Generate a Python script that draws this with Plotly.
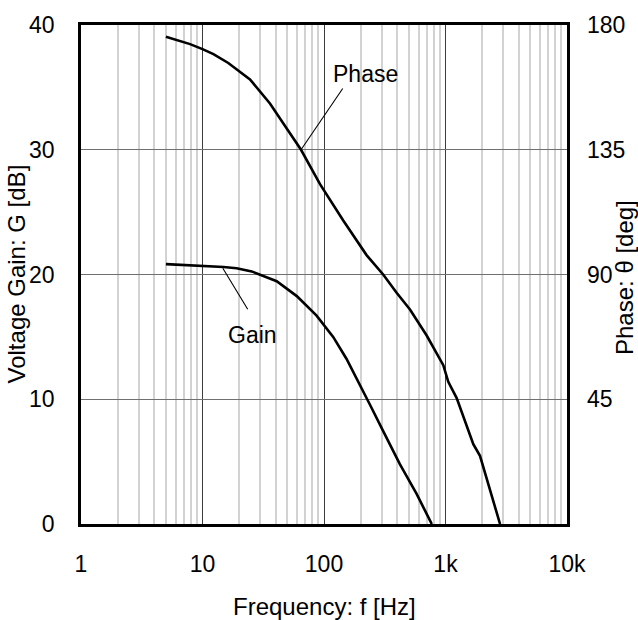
import plotly.graph_objects as go

# Frequency response of the amplifier stage
gain_freq = [5.0, 10, 14.9, 19.1, 25.4, 40.8, 59.7, 86.9, 119, 153, 190, 239, 307, 421, 577, 771]
gain_db = [20.83, 20.7, 20.6, 20.5, 20.25, 19.46, 18.27, 16.7, 15.0, 13.25, 11.4, 9.56, 7.45, 4.8, 2.43, 0.0]

phase_freq = [5.0, 7.9, 10, 12.3, 16.3, 24.6, 35.9, 46.3, 64.7, 92.7, 144, 224, 308, 396, 510,
              700, 959, 1054, 1236, 1694, 1923, 2811]
phase_deg = [175.8, 173.1, 171.3, 169.5, 166.3, 160.4, 151.7, 144.6, 135.0, 122.6, 109.5, 97.0,
             89.9, 83.4, 77.4, 68.0, 57.3, 51.3, 45.4, 28.8, 24.6, 0.0]

# Leader lines for the curve labels (curve point -> label)
gain_leader_f = [14.7, 23.55]
gain_leader_v = [20.5, 17.21]
phase_leader_f = [64.7, 142.6]
phase_leader_v = [135.0, 157.1]

x_tickvals = [1, 10, 100, 1000, 10000]
x_ticktext = ["1", "10", "100", "1k", "10k"]
gain_ticks = [0, 10, 20, 30, 40]
phase_ticks = [45, 90, 135, 180]

minor_vals = [m * 10 ** d for d in range(4) for m in range(2, 10)]

FONT = "Arial, Liberation Sans, sans-serif"
FS = 23
TITLE_FS = 24

fig = go.Figure()
fig.add_trace(go.Scatter(x=gain_freq, y=gain_db, mode="lines",
                         line=dict(color="black", width=2.6), yaxis="y", showlegend=False))
fig.add_trace(go.Scatter(x=phase_freq, y=phase_deg, mode="lines",
                         line=dict(color="black", width=2.6), yaxis="y2", showlegend=False))
fig.add_trace(go.Scatter(x=gain_leader_f, y=gain_leader_v, mode="lines",
                         line=dict(color="black", width=1.1), yaxis="y", showlegend=False))
fig.add_trace(go.Scatter(x=phase_leader_f, y=phase_leader_v, mode="lines",
                         line=dict(color="black", width=1.1), yaxis="y2", showlegend=False))

fig.update_layout(
    width=638, height=620,
    margin=dict(l=81, r=71, t=19, b=96),
    paper_bgcolor="white", plot_bgcolor="white",
    font=dict(family=FONT, size=FS, color="black"),
    xaxis=dict(
        type="log", range=[0, 4],
        tickvals=x_tickvals, ticktext=x_ticktext,
        showgrid=True, gridcolor="#3c3c3c", gridwidth=1.2,
        minor=dict(tickvals=minor_vals, showgrid=True, gridcolor="#d2d2d2", gridwidth=1.6),
        showline=True, linecolor="black", linewidth=2.6, mirror=True,
        ticks="", ticklabelstandoff=18, zeroline=False,
    ),
    yaxis=dict(
        range=[0, 40], tickvals=gain_ticks,
        showgrid=True, gridcolor="#707070", gridwidth=1.4,
        showline=True, linecolor="black", linewidth=2.6, mirror=True,
        ticks="", ticklabelstandoff=19, zeroline=False,
    ),
    yaxis2=dict(
        range=[0, 180], tickvals=phase_ticks, overlaying="y", side="right",
        showgrid=False, showline=False, ticks="", ticklabelstandoff=19, zeroline=False,
    ),
    annotations=[
        dict(text="Phase", x=0.5844, y=0.901, xref="paper", yref="paper",
             showarrow=False, xanchor="center", yanchor="middle"),
        dict(text="Gain", x=0.3519, y=0.378, xref="paper", yref="paper",
             showarrow=False, xanchor="center", yanchor="middle"),
        dict(text="Voltage Gain: G [dB]", x=(16 - 81) / 486, y=0.5, xref="paper", yref="paper",
             showarrow=False, textangle=-90, xanchor="center", yanchor="middle",
             font=dict(size=TITLE_FS)),
        dict(text="Phase: θ [deg]", x=(625 - 81) / 486, y=0.493, xref="paper", yref="paper",
             showarrow=False, textangle=-90, xanchor="center", yanchor="middle",
             font=dict(size=TITLE_FS)),
        dict(text="Frequency: f [Hz]", x=0.5, y=(524 - 607) / 505, xref="paper", yref="paper",
             showarrow=False, xanchor="center", yanchor="middle",
             font=dict(size=TITLE_FS)),
    ],
)

fig.write_html("out.html")
